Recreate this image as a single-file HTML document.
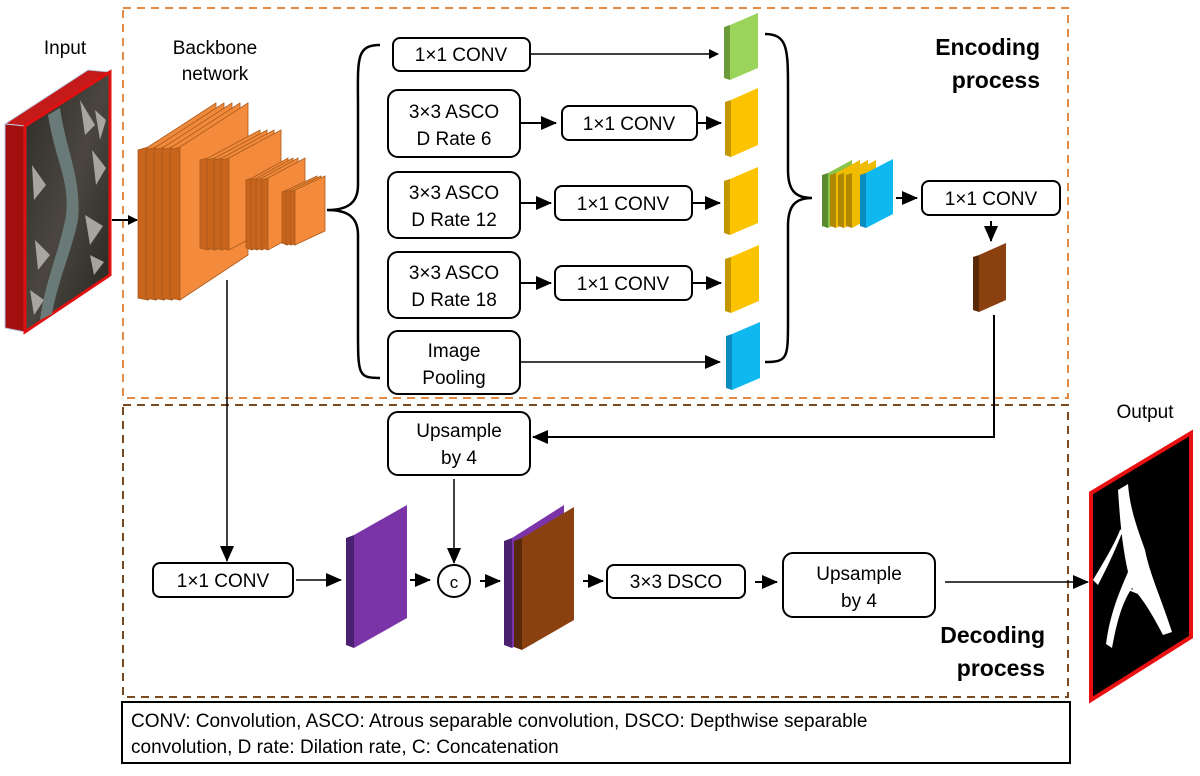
<!DOCTYPE html>
<html><head><meta charset="utf-8"><style>
html,body{margin:0;padding:0;background:#fff;}
svg text{font-family:"Liberation Sans",sans-serif;}
</style></head><body>
<svg width="1200" height="771" viewBox="0 0 1200 771" xmlns="http://www.w3.org/2000/svg">
<defs>
<marker id="ah" markerWidth="10" markerHeight="10" refX="9" refY="5" orient="auto" markerUnits="userSpaceOnUse">
<path d="M0,0 L10,5 L0,10 z" fill="#000"/></marker>
<marker id="ahb" markerWidth="16" markerHeight="14" refX="15" refY="7" orient="auto" markerUnits="userSpaceOnUse">
<path d="M0,0 L16,7 L0,14 z" fill="#000"/></marker>
<linearGradient id="sat" x1="0" y1="0" x2="1" y2="1">
<stop offset="0" stop-color="#2e2c28"/><stop offset="0.5" stop-color="#4a463f"/><stop offset="1" stop-color="#26241f"/></linearGradient>
</defs>

<rect x="123" y="8" width="945" height="390" fill="none" stroke="#e08a45" stroke-width="2" stroke-dasharray="8,6"/>
<rect x="123" y="405" width="945" height="292" fill="none" stroke="#7a4a22" stroke-width="2" stroke-dasharray="8,6"/>
<rect x="122" y="702" width="948" height="61" fill="none" stroke="#000" stroke-width="2"/>

<text x="65" y="54" font-size="19" text-anchor="middle">Input</text>
<polygon points="5,124 88,70 110,72 25,126" fill="#c41a1a" stroke="#b8c8e0" stroke-width="1"/>
<polygon points="5,124 25,126 25,332 5,328" fill="#a30f0f" stroke="#b8c8e0" stroke-width="1"/>
<polygon points="25,126 110,72 110,275 25,332" fill="url(#sat)" stroke="#e01010" stroke-width="3"/>
<g fill="#b8b8b0" opacity="0.85">
<path d="M80,100 L95,125 L85,135 z M92,150 L106,168 L96,185 z M32,165 L46,185 L34,200 z M85,215 L103,226 L90,245 z M35,240 L50,255 L38,270 z M95,110 L106,120 L100,140 z M30,290 L44,300 L34,315 z M90,255 L104,262 L94,275 z"/>
</g>
<path d="M48,115 C55,160 70,180 66,215 C60,250 45,280 40,320 L52,314 C58,280 72,250 78,220 C82,180 66,150 60,108 z" fill="#6a7a78"/>
<line x1="112" y1="220" x2="137" y2="220" stroke="#000" stroke-width="2" marker-end="url(#ah)"/>

<text x="215" y="54" font-size="19" text-anchor="middle">Backbone</text>
<text x="215" y="80" font-size="19" text-anchor="middle">network</text>
<g stroke="#a85a1c" stroke-width="0.8">
<polygon points="138,150 148,147 148,300 138,298" fill="#c8641c"/><polygon points="148,147 216,103 216,255 148,300" fill="#f08a3a"/>
<polygon points="146,150 156,147 156,300 146,298" fill="#c8641c"/><polygon points="156,147 224,103 224,255 156,300" fill="#f08a3a"/>
<polygon points="154,150 164,147 164,300 154,298" fill="#c8641c"/><polygon points="164,147 232,103 232,255 164,300" fill="#f08a3a"/>
<polygon points="162,150 172,147 172,300 162,298" fill="#c8641c"/><polygon points="172,147 240,103 240,255 172,300" fill="#f08a3a"/>
<polygon points="170,150 180,147 180,300 170,298" fill="#c8641c"/><polygon points="180,147 248,103 248,255 180,300" fill="#f48a3c"/>
<polygon points="200,160 208,158 208,250 200,248" fill="#c8641c"/><polygon points="208,158 260,130 260,222 208,250" fill="#f08a3a"/>
<polygon points="207,160 215,158 215,250 207,248" fill="#c8641c"/><polygon points="215,158 267,130 267,222 215,250" fill="#f08a3a"/>
<polygon points="214,160 222,158 222,250 214,248" fill="#c8641c"/><polygon points="222,158 274,130 274,222 222,250" fill="#f08a3a"/>
<polygon points="221,160 229,158 229,250 221,248" fill="#c8641c"/><polygon points="229,158 281,130 281,222 229,250" fill="#f48a3c"/>
<polygon points="246,180 252,178 252,250 246,248" fill="#c8641c"/><polygon points="252,178 288,158 288,230 252,250" fill="#f08a3a"/>
<polygon points="251,180 257,178 257,250 251,248" fill="#c8641c"/><polygon points="257,178 293,158 293,230 257,250" fill="#f08a3a"/>
<polygon points="256,180 262,178 262,250 256,248" fill="#c8641c"/><polygon points="262,178 298,158 298,230 262,250" fill="#f08a3a"/>
<polygon points="262,180 268,178 268,250 262,248" fill="#c8641c"/><polygon points="268,178 305,158 305,230 268,250" fill="#f48a3c"/>
<polygon points="282,192 287,190 287,245 282,243" fill="#c8641c"/><polygon points="287,190 317,176 317,231 287,245" fill="#f08a3a"/>
<polygon points="286,192 291,190 291,245 286,243" fill="#c8641c"/><polygon points="291,190 321,176 321,231 291,245" fill="#f08a3a"/>
<polygon points="290,192 295,190 295,245 290,243" fill="#c8641c"/><polygon points="295,190 325,176 325,231 295,245" fill="#f48a3c"/>
</g>

<path d="M380,45 C355,45 358,60 358,110 L358,185 C358,205 345,210 327,210 C345,210 358,215 358,235 L358,330 C358,375 358,378 380,378" fill="none" stroke="#000" stroke-width="2.5"/>

<g fill="#fff" stroke="#000" stroke-width="2">
<rect x="393" y="38" width="137" height="33" rx="7"/>
<rect x="388" y="90" width="132" height="67" rx="10"/>
<rect x="562" y="106" width="135" height="34" rx="7"/>
<rect x="388" y="172" width="132" height="66" rx="10"/>
<rect x="555" y="186" width="137" height="34" rx="7"/>
<rect x="388" y="252" width="132" height="66" rx="10"/>
<rect x="555" y="266" width="137" height="34" rx="7"/>
<rect x="388" y="331" width="132" height="63" rx="10"/>
<rect x="922" y="181" width="138" height="34" rx="7"/>
<rect x="388" y="412" width="142" height="63" rx="10"/>
<rect x="153" y="563" width="140" height="34" rx="7"/>
<rect x="607" y="565" width="138" height="33" rx="7"/>
<rect x="783" y="553" width="152" height="64" rx="10"/>
</g>
<g font-size="19" text-anchor="middle">
<text x="461" y="61">1×1 CONV</text>
<text x="454" y="118">3×3 ASCO</text><text x="454" y="145">D Rate 6</text>
<text x="629" y="130">1×1 CONV</text>
<text x="454" y="199">3×3 ASCO</text><text x="454" y="226">D Rate 12</text>
<text x="623" y="210">1×1 CONV</text>
<text x="454" y="279">3×3 ASCO</text><text x="454" y="306">D Rate 18</text>
<text x="623" y="290">1×1 CONV</text>
<text x="454" y="357">Image</text><text x="454" y="384">Pooling</text>
<text x="991" y="205">1×1 CONV</text>
<text x="459" y="437">Upsample</text><text x="459" y="464">by 4</text>
<text x="223" y="587">1×1 CONV</text>
<text x="676" y="588">3×3 DSCO</text>
<text x="859" y="580">Upsample</text><text x="859" y="607">by 4</text>
</g>

<g stroke="#000" stroke-width="2" fill="none">
<line x1="530" y1="54" x2="718" y2="54" marker-end="url(#ah)" stroke-width="1.5"/>
<line x1="520" y1="123" x2="556" y2="123" marker-end="url(#ahb)"/>
<line x1="697" y1="123" x2="721" y2="123" marker-end="url(#ahb)"/>
<line x1="520" y1="203" x2="551" y2="203" marker-end="url(#ahb)"/>
<line x1="692" y1="203" x2="720" y2="203" marker-end="url(#ahb)"/>
<line x1="520" y1="283" x2="551" y2="283" marker-end="url(#ahb)"/>
<line x1="692" y1="283" x2="721" y2="283" marker-end="url(#ahb)"/>
<line x1="520" y1="362" x2="720" y2="362" marker-end="url(#ahb)" stroke-width="1.5"/>
<line x1="896" y1="198" x2="917" y2="198" marker-end="url(#ahb)"/>
<line x1="991" y1="221" x2="991" y2="241" marker-end="url(#ahb)"/>
<polyline points="994,315 994,437 533,437" marker-end="url(#ahb)"/>
<line x1="454" y1="479" x2="454" y2="563" marker-end="url(#ahb)" stroke-width="1.5"/>
<line x1="227" y1="280" x2="227" y2="561" marker-end="url(#ahb)" stroke-width="1.5"/>
<line x1="296" y1="580" x2="341" y2="580" marker-end="url(#ahb)" stroke-width="1.5"/>
<line x1="410" y1="580" x2="430" y2="580" marker-end="url(#ahb)"/>
<line x1="480" y1="581" x2="500" y2="581" marker-end="url(#ahb)"/>
<line x1="583" y1="581" x2="603" y2="581" marker-end="url(#ahb)"/>
<line x1="755" y1="582" x2="777" y2="582" marker-end="url(#ahb)"/>
<line x1="945" y1="582" x2="1088" y2="582" marker-end="url(#ahb)" stroke-width="1.5"/>
<circle cx="454" cy="581" r="16" fill="#fff"/>
</g>
<text x="454" y="588" font-size="17" text-anchor="middle">c</text>

<polygon points="724,27 730,25 730,80 724,78" fill="#6a9a3a"/><polygon points="730,25 758,13 758,68 730,80" fill="#9ad45a"/>
<polygon points="725,102 731,100 731,157 725,155" fill="#c49600"/><polygon points="731,100 758,88 758,145 731,157" fill="#fcc400"/>
<polygon points="724,181 730,179 730,235 724,233" fill="#c49600"/><polygon points="730,179 758,167 758,223 730,235" fill="#fcc400"/>
<polygon points="725,259 731,257 731,313 725,311" fill="#c49600"/><polygon points="731,257 759,245 759,301 731,313" fill="#fcc400"/>
<polygon points="726,336 732,334 732,390 726,388" fill="#0a8cc0"/><polygon points="732,334 760,322 760,378 732,390" fill="#10b8f0"/>

<path d="M765,34 C788,34 788,50 788,90 L788,170 C788,190 795,198 812,198 C795,198 788,206 788,226 L788,320 C788,358 788,362 765,362" fill="none" stroke="#000" stroke-width="2.5"/>

<polygon points="822,175 828,173 828,228 822,226" fill="#5a8a30"/><polygon points="828,173 852,160 852,215 828,228" fill="#8ac44a"/>
<polygon points="830,175 836,173 836,228 830,226" fill="#b08800"/><polygon points="836,173 860,160 860,215 836,228" fill="#f0bc00"/>
<polygon points="838,175 844,173 844,228 838,226" fill="#b08800"/><polygon points="844,173 868,160 868,215 844,228" fill="#f0bc00"/>
<polygon points="846,175 852,173 852,228 846,226" fill="#b08800"/><polygon points="852,173 876,160 876,215 852,228" fill="#f0bc00"/>
<polygon points="860,175 866,173 866,228 860,226" fill="#0a8cc0"/><polygon points="866,173 893,159 893,214 866,228" fill="#10b8f0"/>

<polygon points="973,257 979,255 979,312 973,310" fill="#5a2a08"/><polygon points="979,255 1006,243 1006,300 979,312" fill="#8b4010"/>

<polygon points="346,538 354,535 354,648 346,645" fill="#4a2070"/><polygon points="354,535 407,505 407,618 354,648" fill="#7a34a8"/>
<polygon points="504,541 512,538 512,648 504,645" fill="#4a2070"/><polygon points="512,538 564,505 564,618 512,648" fill="#7a34a8"/>
<polygon points="514,541 522,538 522,650 514,647" fill="#5a2a08"/><polygon points="522,538 574,507 574,620 522,650" fill="#8b4010"/>

<text x="1145" y="418" font-size="19" text-anchor="middle">Output</text>
<polygon points="1091,493 1191,433 1191,637 1091,700" fill="#000" stroke="#e81010" stroke-width="4"/>
<path d="M1118,490 L1128,484 C1130,510 1138,530 1145,550 C1150,575 1160,595 1172,632 L1163,635 C1150,610 1140,595 1132,588 C1124,600 1118,615 1112,648 L1106,644 C1110,615 1118,595 1128,572 C1122,545 1120,520 1118,490 z M1120,530 L1124,528 C1116,548 1110,562 1098,585 L1093,580 C1105,560 1114,545 1120,530 z M1128,590 L1140,588 L1138,594 z" fill="#fff"/>

<g font-size="23" font-weight="bold" text-anchor="end">
<text x="1040" y="55">Encoding</text><text x="1040" y="88">process</text>
<text x="1045" y="643">Decoding</text><text x="1045" y="676">process</text>
</g>
<g font-size="19">
<text x="131" y="727">CONV: Convolution, ASCO: Atrous separable convolution, DSCO: Depthwise separable</text>
<text x="131" y="753">convolution, D rate: Dilation rate, C: Concatenation</text>
</g>
</svg>
</body></html>
